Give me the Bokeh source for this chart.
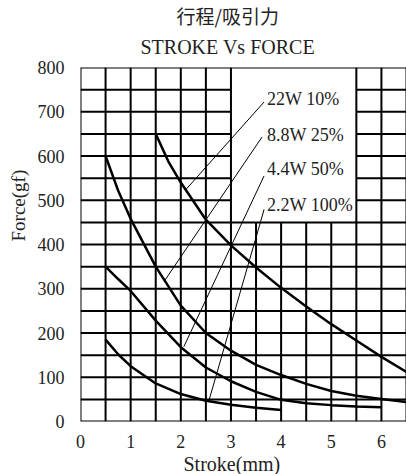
from bokeh.plotting import figure
from bokeh.models import FixedTicker, Range1d, Title
from bokeh.core.properties import value
from bokeh.embed import file_html
from bokeh.resources import INLINE

# ---- data ----
stroke_22w = [1.5, 1.75, 2.0, 2.5, 3.0, 3.5, 4.0, 4.5, 5.0, 5.5, 6.0, 6.5]
force_22w = [650, 588, 540, 456, 398, 348, 302, 260, 220, 183, 146, 112]

stroke_8w8 = [0.5, 0.75, 1.0, 1.5, 2.0, 2.5, 3.0, 3.5, 4.0, 4.5, 5.0, 5.5, 6.0, 6.5]
force_8w8 = [600, 522, 458, 350, 262, 200, 160, 128, 105, 85, 69, 58, 51, 44]

stroke_4w4 = [0.5, 0.75, 1.0, 1.5, 2.0, 2.5, 3.0, 3.5, 4.0, 4.5, 5.0, 5.5, 6.0]
force_4w4 = [350, 322, 295, 228, 168, 122, 91, 67, 49, 41, 37, 34, 32]

stroke_2w2 = [0.5, 0.75, 1.0, 1.5, 2.0, 2.5, 3.0, 3.5, 4.0]
force_2w2 = [185, 152, 125, 86, 62, 47, 38, 31, 26]

series_labels = ["22W 10%", "8.8W 25%", "4.4W 50%", "2.2W 100%"]
label_x = [3.72, 3.72, 3.72, 3.72]
label_y = [729, 647, 570, 490]
leader_x0 = [3.66, 3.62, 3.66, 3.66]
leader_y0 = [722, 643, 555, 479]
leader_x1 = [2.10, 1.67, 2.06, 2.56]
leader_y1 = [524, 317, 169, 47]

x_ticks = [0, 1, 2, 3, 4, 5, 6]
y_ticks = [0, 100, 200, 300, 400, 500, 600, 700, 800]
x_grid = [0, 0.5, 1, 1.5, 2, 2.5, 3, 3.5, 4, 4.5, 5, 5.5, 6, 6.5]
y_grid = [0, 50, 100, 150, 200, 250, 300, 350, 400, 450, 500, 550, 600, 650, 700, 750, 800]

# blank (grid-free) box where the legend texts sit
blank_x0, blank_x1, blank_y0 = 3.0, 5.5, 450

title_cn = "行程/吸引力"
title_en = "STROKE Vs FORCE"
x_title = "Stroke(mm)"
y_title = "Force(gf)"

X0, X1, Y0, Y1 = 0, 6.5, 0, 800
TXT = "#222222"

p = figure(width=406, height=474, x_range=Range1d(X0, X1), y_range=Range1d(Y0, Y1),
           output_backend="svg", toolbar_location=None,
           min_border_left=79, min_border_right=0, min_border_top=67, min_border_bottom=51)
p.xgrid.visible = False
p.ygrid.visible = False
p.outline_line_color = None
p.background_fill_color = "white"
p.border_fill_color = "white"

for ax, ticks in ((p.xaxis, x_ticks), (p.yaxis, y_ticks)):
    ax.ticker = FixedTicker(ticks=ticks)
    ax.axis_line_color = None
    ax.major_tick_line_color = None
    ax.minor_tick_line_color = None
    ax.major_label_text_font = "Liberation Serif"
    ax.major_label_text_font_size = "18px"
    ax.major_label_text_color = TXT
p.yaxis.major_label_standoff = 10
p.xaxis.major_label_standoff = 7

# grid segments (skip interior of blank box)
gx0, gy0, gx1, gy1 = [], [], [], []
for x in x_grid:
    top = blank_y0 if blank_x0 < x < blank_x1 else Y1
    gx0.append(x); gy0.append(Y0); gx1.append(x); gy1.append(top)
for y in y_grid:
    if blank_y0 < y < Y1:
        gx0 += [X0, blank_x1]; gx1 += [blank_x0, X1]; gy0 += [y, y]; gy1 += [y, y]
    else:
        gx0.append(X0); gx1.append(X1); gy0.append(y); gy1.append(y)
p.segment(gx0, gy0, gx1, gy1, line_color="black", line_width=2)

# curves
for xs, ys in ((stroke_22w, force_22w), (stroke_8w8, force_8w8),
               (stroke_4w4, force_4w4), (stroke_2w2, force_2w2)):
    p.line(xs, ys, line_color="black", line_width=2.5)

# leaders
p.segment(leader_x0, leader_y0, leader_x1, leader_y1, line_color="black", line_width=1)
p.text(x=label_x, y=label_y, text=series_labels, text_font=value("Liberation Serif"),
       text_font_size="18px", text_baseline="middle", text_align="left", text_color=TXT)

# titles (the default title sits farthest from the plot)
p.title.text = title_cn
p.title.align = "left"
p.title.offset = 96
p.title.text_font = "Noto Sans CJK SC"
p.title.text_font_size = "19px"
p.title.text_font_style = "normal"
p.title.text_color = TXT
p.title.standoff = -10
p.add_layout(Title(text=title_en, align="left", offset=60, text_font="Liberation Serif",
                   text_font_size="20px", text_font_style="normal", text_color=TXT,
                   standoff=20), "above")

# axis titles
p.add_layout(Title(text=x_title, align="left", offset=103, text_font="Liberation Serif",
                   text_font_size="20px", text_font_style="normal", text_color=TXT,
                   standoff=0), "below")
p.add_layout(Title(text=y_title, align="left", offset=180, text_font="Liberation Serif",
                   text_font_size="19px", text_font_style="normal", text_color=TXT,
                   standoff=11), "left")

open("out.html", "w").write(file_html(p, INLINE))
